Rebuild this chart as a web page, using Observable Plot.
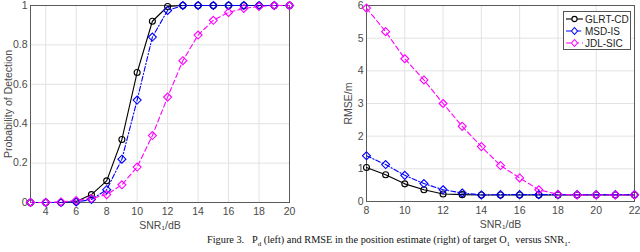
<!DOCTYPE html>
<html>
<head>
<meta charset="utf-8">
<script src="https://cdn.jsdelivr.net/npm/d3@7"></script>
<script src="https://cdn.jsdelivr.net/npm/@observablehq/plot@0.6"></script>
<style>
  html, body { margin: 0; padding: 0; background: #fff; }
  #wrap { position: relative; width: 640px; height: 252px; overflow: hidden; font-family: "Liberation Sans", Arial, sans-serif; }
  #left, #right { position: absolute; top: 0; }
  #left { left: 0; }
  #right { left: 320px; }
  #legend { position: absolute; left: 563px; top: 11px; width: 66px; height: 37px; border: 1px solid #555; background: #fff; font-size: 10px; color: #222; }
  #legend .row { position: absolute; left: 0; height: 12px; display: flex; align-items: center; }
  #legend svg { display: block; }
  #caption { position: absolute; left: 0; width: 640px; top: 234px; font-family: "Liberation Serif", "Times New Roman", serif; font-size: 10.3px; color: #111; white-space: nowrap; }
  #caption span.inner { position: absolute; left: 207px; }
</style>
</head>
<body>
<div id="wrap">
  <div id="left"></div>
  <div id="right"></div>
  <div id="legend"></div>
  <div id="caption"><span class="inner">Figure 3.&nbsp;&nbsp; P<sub style="font-size:7px">d</sub> (left) and RMSE in the position estimate (right) of target O<sub style="font-size:7px">1</sub>&nbsp; versus SNR<sub style="font-size:7px">1</sub>.</span></div>
</div>
<script>
// ---- Data ----
const seriesNames = ["GLRT-CD", "MSD-IS", "JDL-SIC"];

const snrLeft = [3, 4, 5, 6, 7, 8, 9, 10, 11, 12, 13, 14, 15, 16, 17, 18, 19, 20];
const pdGLRT = [0, 0, 0, 0.005, 0.04, 0.11, 0.32, 0.66, 0.92, 0.995, 1, 1, 1, 1, 1, 1, 1, 1];
const pdMSD  = [0, 0, 0, 0.003, 0.015, 0.065, 0.22, 0.52, 0.84, 0.975, 1, 1, 1, 1, 1, 1, 1, 1];
const pdJDL  = [0, 0, 0.003, 0.01, 0.02, 0.04, 0.09, 0.18, 0.34, 0.535, 0.72, 0.85, 0.925, 0.965, 0.985, 0.995, 1, 1];

const snrRight = [8, 9, 10, 11, 12, 13, 14, 15, 16, 17, 18, 19, 20, 21, 22];
const rmseGLRT = [1.04, 0.82, 0.54, 0.36, 0.23, 0.21, 0.2, 0.2, 0.2, 0.2, 0.2, 0.2, 0.2, 0.2, 0.2];
const rmseMSD  = [1.4, 1.13, 0.8, 0.55, 0.36, 0.26, 0.2, 0.21, 0.21, 0.21, 0.21, 0.21, 0.21, 0.21, 0.21];
const rmseJDL  = [5.92, 5.2, 4.37, 3.72, 3.0, 2.3, 1.68, 1.1, 0.72, 0.36, 0.22, 0.2, 0.2, 0.2, 0.2];

const xTicksLeft = [4, 6, 8, 10, 12, 14, 16, 18, 20];
const yTicksLeft = [0, 0.2, 0.4, 0.6, 0.8, 1];
const xTicksRight = [8, 10, 12, 14, 16, 18, 20, 22];
const yTicksRight = [0, 1, 2, 3, 4, 5, 6];

// ---- Styles ----
const styles = {
  "GLRT-CD": {stroke: "#000000", dash: null, symbol: "circle"},
  "MSD-IS": {stroke: "#0000ff", dash: "5,2,1.2,2", symbol: "diamond2"},
  "JDL-SIC": {stroke: "#ff00ff", dash: "5,3", symbol: "diamond2"}
};

function tidy(xs, ys, name) { return xs.map((x, i) => ({x, y: ys[i], series: name})); }

const leftData = {
  "GLRT-CD": tidy(snrLeft, pdGLRT, "GLRT-CD"),
  "MSD-IS": tidy(snrLeft, pdMSD, "MSD-IS"),
  "JDL-SIC": tidy(snrLeft, pdJDL, "JDL-SIC")
};
const rightData = {
  "GLRT-CD": tidy(snrRight, rmseGLRT, "GLRT-CD"),
  "MSD-IS": tidy(snrRight, rmseMSD, "MSD-IS"),
  "JDL-SIC": tidy(snrRight, rmseJDL, "JDL-SIC")
};

function seriesMarks(data) {
  const marks = [];
  for (const name of seriesNames) {
    const s = styles[name];
    marks.push(Plot.line(data[name], {x: "x", y: "y", stroke: s.stroke, strokeWidth: 1.1, strokeDasharray: s.dash, clip: false}));
  }
  for (const name of seriesNames) {
    const s = styles[name];
    marks.push(Plot.dot(data[name], {x: "x", y: "y", stroke: s.stroke, fill: "none", strokeWidth: 1.1, symbol: s.symbol, r: s.symbol === "circle" ? 3 : 3.6}));
  }
  return marks;
}

function chart(opts) {
  return Plot.plot({
    width: 320,
    height: 232,
    marginLeft: opts.ml,
    marginRight: opts.mr,
    marginTop: 5,
    marginBottom: opts.mb,
    style: {fontFamily: "'Liberation Sans', Arial, sans-serif", fontSize: "10px", color: "#4a4a4a", background: "transparent"},
    x: {domain: opts.xd},
    y: {domain: opts.yd},
    marks: [
      Plot.gridX(opts.xt, {stroke: "#e2e2e2", strokeOpacity: 1}),
      Plot.gridY(opts.yt, {stroke: "#e2e2e2", strokeOpacity: 1}),
      Plot.frame({stroke: "#5a5a5a", strokeWidth: 1}),
      Plot.axisX({ticks: opts.xt, tickSize: 0, tickPadding: 5, tickFormat: d => String(d), label: "SNR₁/dB", labelAnchor: "center", labelArrow: "none", labelOffset: 26, fontSize: 10.5}),
      Plot.axisY({ticks: opts.yt, tickSize: 0, tickPadding: 3, tickFormat: d => String(d), label: opts.ylabel, labelAnchor: "center", labelArrow: "none", labelOffset: opts.ylo, fontSize: 10.5}),
      ...seriesMarks(opts.data)
    ]
  });
}

document.getElementById("left").appendChild(chart({
  ml: 30, mr: 31, mb: 30, xd: [3, 20], yd: [0, 1], xt: xTicksLeft, yt: yTicksLeft,
  ylabel: "Probability of Detection", ylo: 26, data: leftData
}));
document.getElementById("right").appendChild(chart({
  ml: 46, mr: 6, mb: 31, xd: [8, 22], yd: [0, 6], xt: xTicksRight, yt: yTicksRight,
  ylabel: "RMSE/m", ylo: 22, data: rightData
}));

// ---- Legend ----
const legend = document.getElementById("legend");
seriesNames.forEach((name, i) => {
  const s = styles[name];
  const row = document.createElement("div");
  row.className = "row";
  row.style.top = (1 + i * 12) + "px";
  const svg = d3.create("svg").attr("width", 20).attr("height", 12);
  svg.append("line").attr("x1", 2).attr("x2", 19).attr("y1", 6).attr("y2", 6)
    .attr("stroke", s.stroke).attr("stroke-width", 1.1).attr("stroke-dasharray", s.dash);
  if (s.symbol === "circle") {
    svg.append("circle").attr("cx", 10.5).attr("cy", 6).attr("r", 2.6).attr("fill", "#fff").attr("stroke", s.stroke).attr("stroke-width", 1.1);
  } else {
    svg.append("path").attr("d", "M10.5,2.5L13.5,6L10.5,9.5L7.5,6Z").attr("fill", "#fff").attr("stroke", s.stroke).attr("stroke-width", 1.1);
  }
  row.appendChild(svg.node());
  const t = document.createElement("span");
  t.textContent = name;
  t.style.marginLeft = "1px";
  row.appendChild(t);
  legend.appendChild(row);
});
</script>
</body>
</html>
